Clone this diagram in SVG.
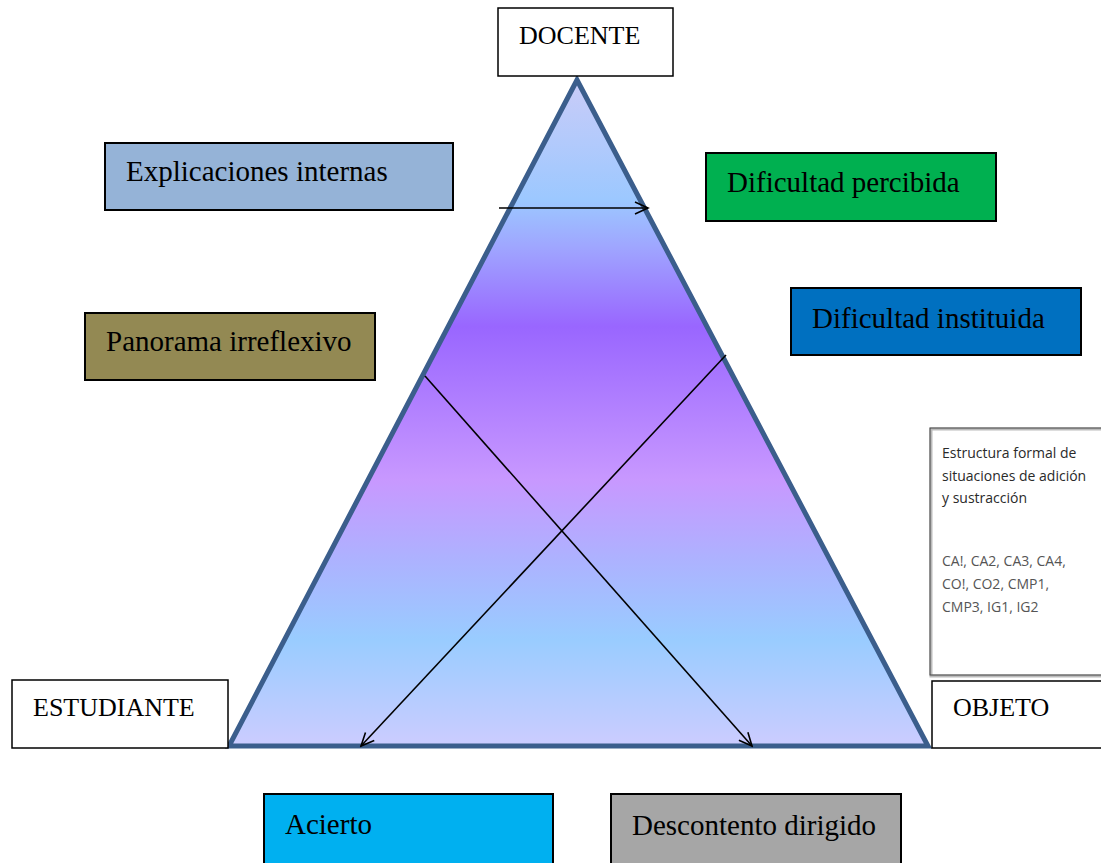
<svg xmlns="http://www.w3.org/2000/svg" width="1101" height="863" viewBox="0 0 1101 863">
<style>
.lbl{fill:#fff;stroke:#000;stroke-width:1.5}
.box{stroke:#000;stroke-width:2}
.t{font-family:"Liberation Serif","Times New Roman",serif;fill:#000}
.big{font-size:29px}
.mid{font-size:26px}
.sm{font-family:"Open Sans","Liberation Sans",sans-serif;font-size:14px;fill:#2a2a2a}
.code{fill:#555}
.con{stroke:#000;stroke-width:1.6;fill:none;marker-end:url(#arr)}
</style>
<defs>
<linearGradient id="tg" gradientUnits="userSpaceOnUse" x1="0" y1="80" x2="0" y2="746">
<stop offset="0" stop-color="#CACCF8"/>
<stop offset="0.18" stop-color="#9CC8FF"/>
<stop offset="0.25" stop-color="#9FA6FF"/>
<stop offset="0.37" stop-color="#9966FF"/>
<stop offset="0.6" stop-color="#C898FF"/>
<stop offset="0.72" stop-color="#ADB2FF"/>
<stop offset="0.84" stop-color="#99CCFF"/>
<stop offset="1" stop-color="#CCCCFF"/>
</linearGradient>
<marker id="arr" markerWidth="16" markerHeight="14" refX="14" refY="7" orient="auto" markerUnits="userSpaceOnUse">
<path d="M1,1 L14,7 L1,13" fill="none" stroke="#000" stroke-width="1.6"/>
</marker>
</defs>
<g id="triangle">
<polygon points="577,80 229,746 928,746" fill="url(#tg)" stroke="#3B5E8C" stroke-width="5" stroke-linejoin="miter"/>
</g>
<g id="connectors">
<line class="con" x1="499" y1="208" x2="648" y2="208"/>
<line class="con" x1="425" y1="376" x2="752" y2="746"/>
<line class="con" x1="726" y1="355" x2="361" y2="746"/>
</g>
<g id="docente">
<rect class="lbl" x="498" y="8" width="175" height="68"/>
<text class="t mid" x="519" y="44">DOCENTE</text>
</g>
<g id="estudiante">
<rect class="lbl" x="12" y="680" width="216" height="68"/>
<text class="t mid" x="33" y="716">ESTUDIANTE</text>
</g>
<g id="objeto">
<rect class="lbl" x="932" y="681" width="175" height="67"/>
<text class="t mid" x="953" y="716">OBJETO</text>
</g>
<g id="explicaciones">
<rect class="box" x="105" y="143" width="348" height="67" fill="#95B3D7"/>
<text class="t big" x="126" y="181">Explicaciones internas</text>
</g>
<g id="percibida">
<rect class="box" x="706" y="153" width="290" height="68" fill="#00B050"/>
<text class="t big" x="727" y="192">Dificultad percibida</text>
</g>
<g id="panorama">
<rect class="box" x="85" y="313" width="290" height="67" fill="#938953"/>
<text class="t big" x="106" y="351">Panorama irreflexivo</text>
</g>
<g id="instituida">
<rect class="box" x="791" y="288" width="290" height="67" fill="#0070C0"/>
<text class="t big" x="812" y="328">Dificultad instituida</text>
</g>
<g id="acierto">
<rect class="box" x="264" y="794" width="289" height="70" fill="#00B0F0"/>
<text class="t big" x="285" y="834">Acierto</text>
</g>
<g id="descontento">
<rect class="box" x="611" y="794" width="290" height="70" fill="#A6A6A6"/>
<text class="t big" x="632" y="835">Descontento dirigido</text>
</g>
<g id="estructura">
<rect x="931" y="429" width="175" height="247" fill="#fff" stroke="#bbb" stroke-width="3"/>
<rect x="930" y="428" width="175" height="247" fill="none" stroke="#444" stroke-width="1"/>
<text class="sm" x="942" y="458">Estructura formal de</text>
<text class="sm" x="942" y="481">situaciones de adición</text>
<text class="sm" x="942" y="503">y sustracción</text>
<text class="sm code" x="942" y="566">CA!, CA2, CA3, CA4,</text>
<text class="sm code" x="942" y="589">CO!, CO2, CMP1,</text>
<text class="sm code" x="942" y="612">CMP3, IG1, IG2</text>
</g>
</svg>
